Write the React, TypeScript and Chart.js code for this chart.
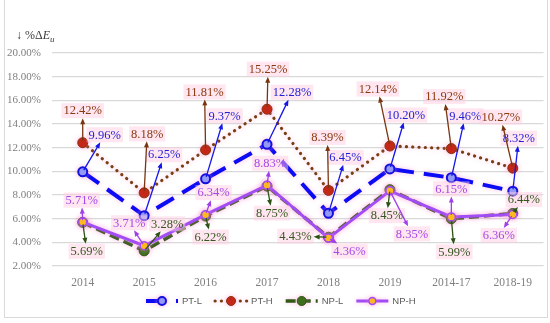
import React, { useEffect, useRef } from "react";
import { Chart, registerables } from "chart.js";

Chart.register(...registerables);

const CATEGORIES = ["2014", "2015", "2016", "2017", "2018", "2019", "2014-17", "2018-19"];
const SERIES_NAMES = ["PT-L", "PT-H", "NP-L", "NP-H"];
const PT_L = [9.96, 6.25, 9.37, 12.28, 6.45, 10.2, 9.46, 8.32];
const PT_H = [12.42, 8.18, 11.81, 15.25, 8.39, 12.14, 11.92, 10.27];
const NP_L = [5.69, 3.28, 6.22, 8.75, 4.43, 8.45, 5.99, 6.44];
const NP_H = [5.71, 3.71, 6.34, 8.83, 4.36, 8.35, 6.15, 6.36];
const Y_TICKS = [2, 4, 6, 8, 10, 12, 14, 16, 18, 20];
const Y_MIN = 2;
const Y_MAX = 20;

// label placement (offset of label centre from its point, px)
const LABEL_OFFSETS: number[][][] = [
  [[22, -37], [20, -61], [19, -63], [25, -52], [17, -56], [16, -54], [14, -62], [6, -53]],
  [[0, -32], [3, -59], [-1, -58], [1, -40], [-1, -53], [-12, -57], [-7, -52], [-12, -51]],
  [[4, 29], [23, -27], [5, 21], [5, 27], [-33, -1], [-3, 26], [3, 33], [11, -14]],
  [[-1, -22], [-15, -23], [8, -22], [3, -22], [21, 13], [22, 43], [0, -28], [-14, 21]],
];

const STYLES = [
  { line: "#0b0bf5", width: 4, dash: [20, 10], cap: "butt", pFill: "#7f9bff", pBorder: "#1212e0", r: 4.5, pbw: 2, text: "#1f1fd6", arrow: "#1616e6" },
  { line: "#7a3f12", width: 3.2, dash: [0.1, 6.2], cap: "round", pFill: "#c0200a", pBorder: "#8a3210", r: 5, pbw: 1, text: "#8a3a10", arrow: "#7a3510" },
  { line: "#2e5a16", width: 3.5, dash: [10, 5], cap: "butt", pFill: "#2f6e10", pBorder: "#2a5414", r: 5, pbw: 1, text: "#35571f", arrow: "#2e5216" },
  { line: "#a24cf5", width: 3, dash: [], cap: "butt", pFill: "#ffc000", pBorder: "#a24cf5", r: 4, pbw: 1.5, text: "#a648e8", arrow: "#a040e8" },
];

const SERIF = '"Liberation Serif", "Times New Roman", serif';
const SANS = '"Liberation Sans", Arial, sans-serif';
const TOP_GRID_Y = 53; // pixel row of the highest gridline

function drawArrow(ctx: CanvasRenderingContext2D, x0: number, y0: number, x1: number, y1: number, color: string) {
  const ang = Math.atan2(y1 - y0, x1 - x0);
  const head = 6;
  ctx.save();
  ctx.strokeStyle = color;
  ctx.fillStyle = color;
  ctx.lineWidth = 1.3;
  ctx.setLineDash([]);
  ctx.beginPath();
  ctx.moveTo(x0, y0);
  ctx.lineTo(x1 - Math.cos(ang) * head * 0.7, y1 - Math.sin(ang) * head * 0.7);
  ctx.stroke();
  ctx.beginPath();
  ctx.moveTo(x1, y1);
  ctx.lineTo(x1 - head * Math.cos(ang) + 2.5 * Math.sin(ang), y1 - head * Math.sin(ang) - 2.5 * Math.cos(ang));
  ctx.lineTo(x1 - head * Math.cos(ang) - 2.5 * Math.sin(ang), y1 - head * Math.sin(ang) + 2.5 * Math.cos(ang));
  ctx.closePath();
  ctx.fill();
  ctx.restore();
}

const glowPlugin = {
  id: "glow",
  beforeDatasetDraw(chart: any) {
    const ctx = chart.ctx;
    ctx.save();
    ctx.shadowColor = "rgba(255,140,210,0.55)";
    ctx.shadowBlur = 5;
  },
  afterDatasetDraw(chart: any) {
    chart.ctx.restore();
  },
};

const labelsPlugin = {
  id: "arrowLabels",
  afterDatasetsDraw(chart: any) {
    const ctx: CanvasRenderingContext2D = chart.ctx;
    ctx.save();
    ctx.font = `12.5px ${SERIF}`;
    ctx.textAlign = "center";
    ctx.textBaseline = "middle";
    chart.data.datasets.forEach((ds: any, i: number) => {
      const meta = chart.getDatasetMeta(i);
      const st = STYLES[i];
      meta.data.forEach((pt: any, j: number) => {
        const v = ds.data[j];
        const text = v.toFixed(2) + "%";
        const [dx, dy] = LABEL_OFFSETS[i][j];
        const lx = pt.x + dx;
        const ly = pt.y + dy;
        const w = ctx.measureText(text).width;
        const hw = w / 2 + 2;
        const hh = 7.5;
        const vx = pt.x - lx;
        const vy = pt.y - ly;
        const t = Math.min(vx !== 0 ? hw / Math.abs(vx) : 1e9, vy !== 0 ? hh / Math.abs(vy) : 1e9);
        const tx = lx + vx * t;
        const ty = ly + vy * t;
        const len = Math.hypot(tx - pt.x, ty - pt.y) || 1;
        const sx = pt.x + ((tx - pt.x) / len) * 2;
        const sy = pt.y + ((ty - pt.y) / len) * 2;
        drawArrow(ctx, sx, sy, tx, ty, st.arrow);
        ctx.fillStyle = "rgba(255,205,226,0.5)";
        ctx.fillRect(lx - hw, ly - hh, hw * 2, hh * 2);
        ctx.fillStyle = st.text;
        ctx.fillText(text, lx, ly + 0.5);
      });
    });
    ctx.restore();
  },
};

const decorPlugin = {
  id: "decor",
  afterDraw(chart: any) {
    const ctx: CanvasRenderingContext2D = chart.ctx;
    ctx.save();
    ctx.strokeStyle = "#d9d9d9";
    ctx.lineWidth = 1;
    ctx.strokeRect(4.5, -1, 543, 318.5);
    ctx.fillStyle = "#3a3a3a";
    ctx.textBaseline = "alphabetic";
    ctx.textAlign = "left";
    let x = 16;
    const base = 39;
    ctx.font = `12px ${SERIF}`;
    const a = "\u2193 %\u0394";
    ctx.fillText(a, x, base);
    x += ctx.measureText(a).width;
    ctx.font = `italic 12px ${SERIF}`;
    ctx.fillText("E", x, base);
    x += ctx.measureText("E").width;
    ctx.font = `italic 9px ${SERIF}`;
    ctx.fillText("u", x, base + 3);
    const ly = 301;
    let lx = 146;
    ctx.font = `9.5px ${SANS}`;
    ctx.textBaseline = "middle";
    chart.data.datasets.forEach((ds: any, i: number) => {
      const st = STYLES[i];
      ctx.save();
      ctx.shadowColor = "rgba(255,140,210,0.5)";
      ctx.shadowBlur = 4;
      ctx.strokeStyle = st.line;
      ctx.lineWidth = st.width;
      ctx.lineCap = st.cap as CanvasLineCap;
      ctx.setLineDash(st.dash);
      ctx.beginPath();
      ctx.moveTo(lx, ly);
      ctx.lineTo(lx + 32, ly);
      ctx.stroke();
      ctx.setLineDash([]);
      ctx.beginPath();
      ctx.arc(lx + 16, ly, st.r - 0.5, 0, Math.PI * 2);
      ctx.fillStyle = st.pFill;
      ctx.fill();
      ctx.lineWidth = st.pbw;
      ctx.strokeStyle = st.pBorder;
      ctx.stroke();
      ctx.restore();
      ctx.fillStyle = "#595959";
      ctx.fillText(SERIES_NAMES[i], lx + 36, ly);
      lx += 36 + ctx.measureText(SERIES_NAMES[i]).width + 13;
    });
    ctx.restore();
  },
};

export default function App() {
  const ref = useRef<HTMLCanvasElement | null>(null);
  useEffect(() => {
    if (!ref.current) return;
    const values = [PT_L, PT_H, NP_L, NP_H];
    const chart: any = new Chart(ref.current, {
      type: "line",
      data: {
        labels: CATEGORIES,
        datasets: values.map((d, i) => {
          const st = STYLES[i];
          return {
            label: SERIES_NAMES[i],
            data: d,
            borderColor: st.line,
            borderWidth: st.width,
            borderDash: st.dash,
            borderCapStyle: st.cap as any,
            pointRadius: st.r,
            pointBackgroundColor: st.pFill,
            pointBorderColor: st.pBorder,
            pointBorderWidth: st.pbw,
            tension: 0,
            fill: false,
            order: 4 - i,
          };
        }),
      },
      options: {
        responsive: false,
        animation: false,
        layout: { padding: { top: 41, left: 0, right: 2, bottom: 0 } },
        plugins: { legend: { display: false }, tooltip: { enabled: false } },
        scales: {
          x: {
            offset: true,
            grid: { display: false, drawTicks: false },
            border: { display: false },
            ticks: { color: "#7f7f7f", font: { family: SERIF, size: 11.5 }, padding: 10, maxRotation: 0 },
            afterFit(scale: any) {
              scale.height = 57;
            },
          },
          y: {
            min: Y_MIN,
            max: Y_MAX,
            border: { display: false },
            grid: { color: "#d9d9d9", lineWidth: 1.2, drawTicks: false },
            ticks: {
              color: "#7f7f7f",
              font: { family: SERIF, size: 11 },
              padding: 11,
              callback: (v: any) => Number(v).toFixed(2) + "%",
            },
            afterBuildTicks(scale: any) {
              scale.ticks = Y_TICKS.map((v) => ({ value: v }));
            },
            afterFit(scale: any) {
              scale.width = 52;
            },
          },
        },
      },
      plugins: [glowPlugin, labelsPlugin, decorPlugin],
    });
    // extend the value range a little above the top gridline so that it sits at TOP_GRID_Y
    const area = chart.chartArea;
    const pxPerUnit = (area.bottom - TOP_GRID_Y) / (Y_MAX - Y_MIN);
    if (pxPerUnit > 0 && area.top < TOP_GRID_Y) {
      chart.options.scales.y.max = Y_MIN + (area.bottom - area.top) / pxPerUnit;
      chart.update();
    }
    return () => chart.destroy();
  }, []);
  return (
    <div style={{ position: "absolute", left: 0, top: 0, width: 550, height: 323, background: "#fff" }}>
      <canvas ref={ref} width={550} height={323} />
    </div>
  );
}
